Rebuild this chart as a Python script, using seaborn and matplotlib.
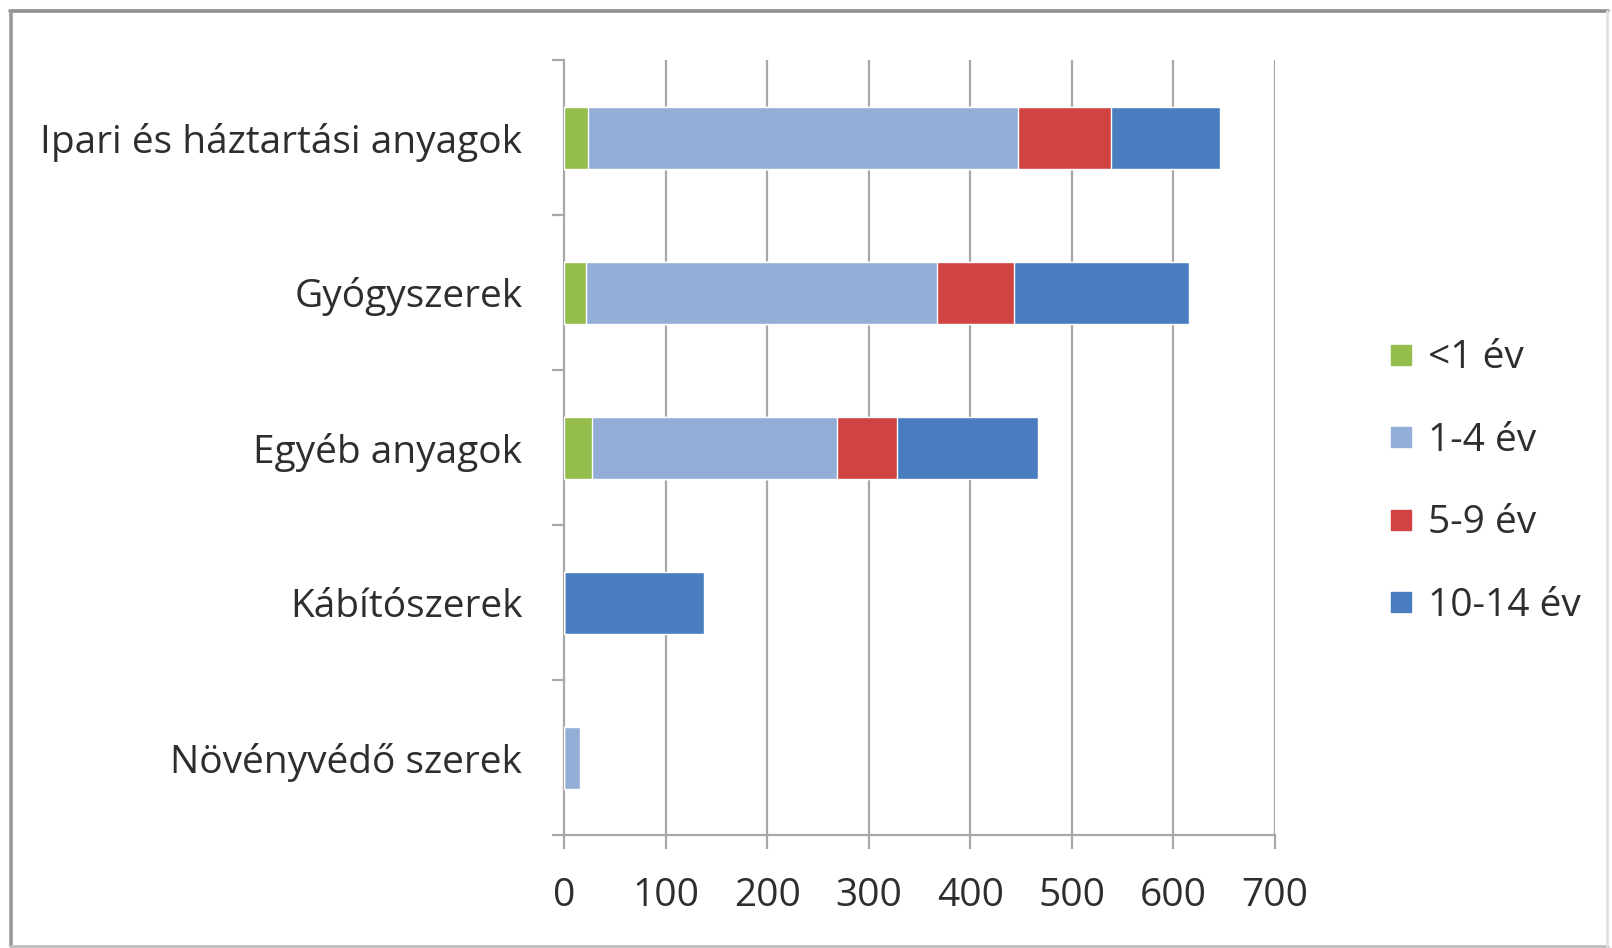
import matplotlib
matplotlib.use("Agg")
import matplotlib.pyplot as plt
import seaborn as sns
import pandas as pd
import numpy as np
from matplotlib.lines import Line2D

# Poisoning cases by substance group and age band
categories = ["Ipari és háztartási anyagok", "Gyógyszerek", "Egyéb anyagok",
              "Kábítószerek", "Növényvédő szerek"]
age_groups = ["<1 év", "1-4 év", "5-9 év", "10-14 év"]
under_1 = [24, 22, 28, 0, 0]
age_1_4 = [423, 345, 241, 0, 16]
age_5_9 = [92, 76, 59, 0, 0]
age_10_14 = [107, 172, 139, 138, 0]
x_ticks = [0, 100, 200, 300, 400, 500, 600, 700]

colors = ["#95BD4E", "#93AED6", "#CF4442", "#4A7DC0"]
text_color = "#2E2E2E"

sns.set_theme(style="white")
plt.rcParams["font.family"] = ["Open Sans", "DejaVu Sans"]

series = [under_1, age_1_4, age_5_9, age_10_14]
cum = np.cumsum(np.array(series, dtype=float), axis=0)

fig = plt.figure(figsize=(16.12, 9.48), dpi=100)
ax = fig.add_axes([564 / 1612, 1 - 835 / 948, 711 / 1612, 775 / 948])

# stacked bars: draw cumulative totals from the outermost segment inward
for i in range(len(age_groups) - 1, -1, -1):
    df = pd.DataFrame({"cat": categories, "val": cum[i]})
    sns.barplot(data=df, x="val", y="cat", color=colors[i], width=0.4,
                saturation=1, orient="h", ax=ax, zorder=3)

ax.set_xlim(0, 700)
ax.set_ylim(4.5, -0.5)
ax.set_xticks(x_ticks)
ax.set_xticklabels([str(t) for t in x_ticks])
ax.set_xlabel("")
ax.set_ylabel("")

# vertical gridlines
ax.grid(False)
for t in x_ticks[1:]:
    ax.axvline(t, color="#A8A8A8", lw=1.6, zorder=1)

for s in ["top", "right"]:
    ax.spines[s].set_visible(False)
for s in ["left", "bottom"]:
    ax.spines[s].set_visible(True)
    ax.spines[s].set_color("#A8A8A8")
    ax.spines[s].set_linewidth(1.6)

# category boundaries as ticks on the left axis
ax.set_yticks(np.arange(len(categories)))
ax.set_yticklabels(categories)
ax.set_yticks(np.arange(-0.5, len(categories), 1.0), minor=True)
ax.tick_params(axis="y", which="major", length=0, pad=30,
               labelsize=28, labelcolor=text_color)
ax.tick_params(axis="y", which="minor", length=9, width=1.6, color="#A8A8A8",
               direction="out", left=True)
ax.tick_params(axis="x", which="major", length=10, width=1.6, color="#A8A8A8",
               direction="out", bottom=True, pad=20,
               labelsize=28, labelcolor=text_color)

# legend with square swatches
handles = [Line2D([0], [0], marker="s", color="none", markerfacecolor=c,
                  markeredgecolor=c, markersize=14) for c in colors]
leg = fig.legend(handles, age_groups, loc="center left",
                 bbox_to_anchor=(1372 / 1612, 1 - 482 / 948),
                 frameon=False, fontsize=28, labelspacing=1.14,
                 handlelength=0.7, handletextpad=0.35, borderaxespad=0)
for t in leg.get_texts():
    t.set_color(text_color)

# outer frame around the chart
W, H = 1612, 948
def fx(p):
    return p / W
def fy(p):
    return 1 - p / H
fig.add_artist(Line2D([fx(10), fx(1608)], [fy(11), fy(11)], color="#8E8E8E", lw=2.6))
fig.add_artist(Line2D([fx(11), fx(11)], [fy(11), fy(946)], color="#9A9A9A", lw=2.6))
fig.add_artist(Line2D([fx(10), fx(1608)], [fy(946), fy(946)], color="#BDBDBD", lw=2))
fig.add_artist(Line2D([fx(1607), fx(1607)], [fy(11), fy(946)], color="#E2E2E2", lw=2))

fig.savefig("out.png", dpi=100)
